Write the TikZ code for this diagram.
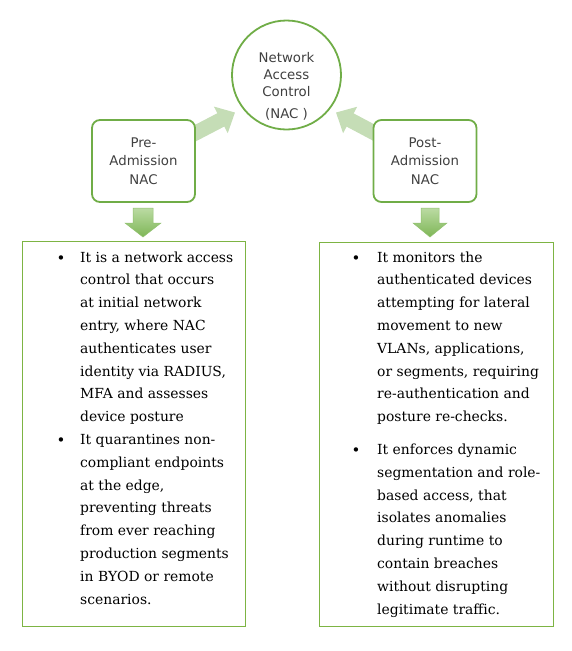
\documentclass[tikz,border=0pt]{standalone}
\usepackage{fontspec}
\setmainfont{DejaVu Serif}
\newfontfamily\nacfont{DejaVu Sans}
\usetikzlibrary{arrows.meta,backgrounds,calc}
\definecolor{gborder}{HTML}{70AD47}
\definecolor{tborder}{HTML}{7DB443}
\definecolor{lightarrow}{HTML}{C5DDB6}
\definecolor{dtop}{HTML}{BBDBA3}
\definecolor{dbot}{HTML}{7EB656}
\definecolor{nactext}{HTML}{404040}
\tikzset{
  shapebox/.style={draw=gborder, line width=1.8pt, fill=white},
  stagebox/.style={shapebox, rounded corners=8pt, minimum width=103pt, minimum height=82pt,
    align=center, inner sep=0pt, text=nactext, font=\nacfont\fontsize{13.3}{18.5}\selectfont},
  textbox/.style={draw=tborder, line width=0.8pt, fill=white, inner sep=0pt},
  para/.style={anchor=base west, inner sep=0pt, font=\fontsize{13.9}{22.8}\selectfont},
  bul/.style={anchor=base, inner sep=0pt, font=\fontsize{15}{22.8}\selectfont},
  diagarrow/.style={draw=lightarrow, line width=15pt, -{Triangle[width=29pt,length=16pt]}},
  downarrow/.style={top color=dtop, bottom color=dbot, draw=dbot!85, line width=0.5pt},
}
\begin{document}
\begin{tikzpicture}[x=1pt,y=-1pt]
\useasboundingbox (0,0) rectangle (572,651);

% top circle
\node[shapebox, circle, minimum size=109pt, inner sep=0pt] (nac) at (286.5,75) {};
\node[align=center, inner sep=0pt, text=nactext, font=\nacfont\fontsize{13.3}{17}\selectfont]
  (naclabel) at (286.5,86) {Network\\Access\\Control\\[5pt](NAC )};

% stage boxes
\node[stagebox] (pre) at (143.5,161) {Pre-\\Admission\\NAC};
\node[stagebox] (post) at (425,161) {Post-\\Admission\\NAC};

% diagonal arrows behind the boxes
\coordinate (la0) at (186,138);
\coordinate (la1) at (235,112.5);
\coordinate (ra0) at (384,138);
\coordinate (ra1) at (336,112.5);
\begin{scope}[on background layer]
  \draw[diagarrow] (la0) -- (la1);
  \draw[diagarrow] (ra0) -- (ra1);
\end{scope}

% down arrows
\coordinate (lda) at (143,208);
\coordinate (rda) at (430,208);
\shade[downarrow] (lda) ++(-10,0) -- ++(20,0) -- ++(0,15) -- ++(8,0) -- ++(-18,14) -- ++(-18,-14) -- ++(8,0) -- cycle;
\shade[downarrow] (rda) ++(-9,0) -- ++(18,0) -- ++(0,15) -- ++(8,0) -- ++(-17,14) -- ++(-17,-14) -- ++(8,0) -- cycle;

% text boxes
\node[textbox, minimum width=223pt, minimum height=385pt] (lbox) at (133.5,433.5) {};
\node[textbox, minimum width=234pt, minimum height=384pt] (rbox) at (436,434) {};

% left texts
\node[bul] (lb1) at (61,263) {\textbullet};
\node[para] (lp1) at (80,262) {\parbox[t]{165pt}{\raggedright
It is a network access\\control that occurs\\at initial network\\entry, where NAC\\authenticates user\\identity via RADIUS,\\MFA and assesses\\device posture}};
\node[bul] (lb2) at (61,445) {\textbullet};
\node[para] (lp2) at (80,444.5) {\parbox[t]{165pt}{\raggedright
It quarantines non-\\compliant endpoints\\at the edge,\\preventing threats\\from ever reaching\\production segments\\in BYOD or remote\\scenarios.}};

% right texts
\node[bul] (rb1) at (356,263) {\textbullet};
\node[para] (rp1) at (377,262) {\parbox[t]{175pt}{\raggedright
It monitors the\\authenticated devices\\attempting for lateral\\movement to new\\VLANs, applications,\\or segments, requiring\\re-authentication and\\posture re-checks.}};
\node[bul] (rb2) at (356,455) {\textbullet};
\node[para] (rp2) at (377,454.5) {\parbox[t]{175pt}{\raggedright
It enforces dynamic\\segmentation and role-\\based access, that\\isolates anomalies\\during runtime to\\contain breaches\\without disrupting\\legitimate traffic.}};
\end{tikzpicture}
\end{document}
